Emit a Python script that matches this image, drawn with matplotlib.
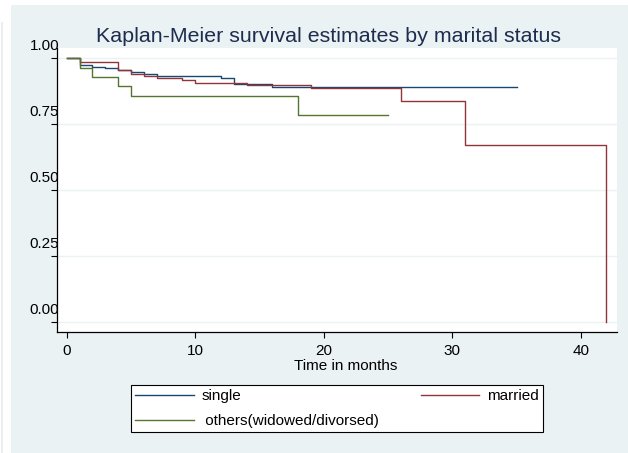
'''
Kaplan-Meier survival estimates by marital status
'''
import matplotlib
matplotlib.use('Agg')
from matplotlib import pyplot as plt
from matplotlib.patches import Rectangle
from matplotlib.transforms import ScaledTranslation

plt.rcParams['font.family'] = ['Liberation Sans', 'DejaVu Sans']

## step data (time in months, survival)
single_t = [0, 1, 2, 3, 4, 5, 6, 7, 12, 13, 16, 35]
single_s = [1.0, 0.972, 0.967, 0.961, 0.953, 0.946, 0.938, 0.931, 0.923, 0.902, 0.890, 0.890]
married_t = [0, 1, 4, 5, 6, 7, 9, 10, 14, 19, 26, 31, 42]
married_s = [1.0, 0.985, 0.953, 0.938, 0.931, 0.923, 0.915, 0.906, 0.897, 0.886, 0.837, 0.670, 0.0]
others_t = [0, 1, 2, 4, 5, 18, 25]
others_s = [1.0, 0.964, 0.929, 0.893, 0.857, 0.786, 0.786]

labels = ['single', 'married', ' others(widowed/divorsed)']
colors = ['#1a476f', '#90353b', '#55752f']
xticks = [0, 10, 20, 30, 40]
yticks = [0, 0.25, 0.5, 0.75, 1.0]
ytick_labels = ['0.00', '0.25', '0.50', '0.75', '1.00']
title = 'Kaplan-Meier survival estimates by marital status'

W, H = 628, 453
bg = '#eaf2f3'
fig = plt.figure(figsize=(W/100, H/100), dpi=100, facecolor='white')
## stata-like light background band
fig.add_artist(Rectangle((11/W, 0), 1 - 11/W, 1 - 5/H, transform=fig.transFigure,
                         facecolor=bg, edgecolor='none', zorder=0))
fig.add_artist(plt.Line2D([1.5/W, 1.5/W], [0, 1 - 23/H], transform=fig.transFigure,
                          color='#e4ebee', lw=1.2, zorder=0))

ax = fig.add_axes([57/W, 1 - 332/H, 560/W, 284/H])
ax.set_facecolor('white')

l1, = ax.step(single_t, single_s, where='post', color=colors[0], lw=1.0, label=labels[0])
l2, = ax.step(married_t, married_s, where='post', color=colors[1], lw=1.0, label=labels[1])
l3, = ax.step(others_t, others_s, where='post', color=colors[2], lw=1.0, label=labels[2])

ax.set_xlim(-0.755, 42.82)
ax.set_ylim(-0.038, 1.038)
ax.set_xticks(xticks)
ax.set_yticks(yticks)
ax.set_yticklabels(ytick_labels)
ax.yaxis.grid(True, color=bg, lw=1.0)
ax.set_axisbelow(True)

for side in ['top', 'right']:
    ax.spines[side].set_visible(False)
for side in ['left', 'bottom']:
    ax.spines[side].set_linewidth(0.9)
    ax.spines[side].set_color('black')

ax.tick_params(axis='both', length=4.3, width=0.8, labelsize=11, colors='black')
ax.tick_params(axis='x', pad=4)
ax.tick_params(axis='y', pad=0)

## y labels sit above their ticks, over the axis line
off = ScaledTranslation(8/100, 13.5/100, fig.dpi_scale_trans)
for tick in ax.yaxis.get_major_ticks():
    tick.label1.set_transform(tick.label1.get_transform() + off)

ax.set_xlabel('Time in months', fontsize=11)
ax.xaxis.set_label_coords((346 - 57)/560, (332 - 359)/284)

ax.set_title(title, fontsize=15.4, color='#1e2c4f', x=(329 - 57)/560,
             y=(332 - 41.7)/284, va='baseline', pad=0)

leg = ax.legend([l1, l3, l2], [labels[0], labels[2], labels[1]], ncol=2,
                loc='center', bbox_to_anchor=(337/W, 1 - 408.5/H),
                bbox_transform=fig.transFigure, fontsize=11,
                fancybox=False, framealpha=1, facecolor='white', edgecolor='black',
                handlelength=3.8, handletextpad=0.5, columnspacing=2.75,
                labelspacing=0.7, borderpad=0.27)
leg.get_frame().set_linewidth(0.8)

fig.savefig('out.png', dpi=100, facecolor='white')
